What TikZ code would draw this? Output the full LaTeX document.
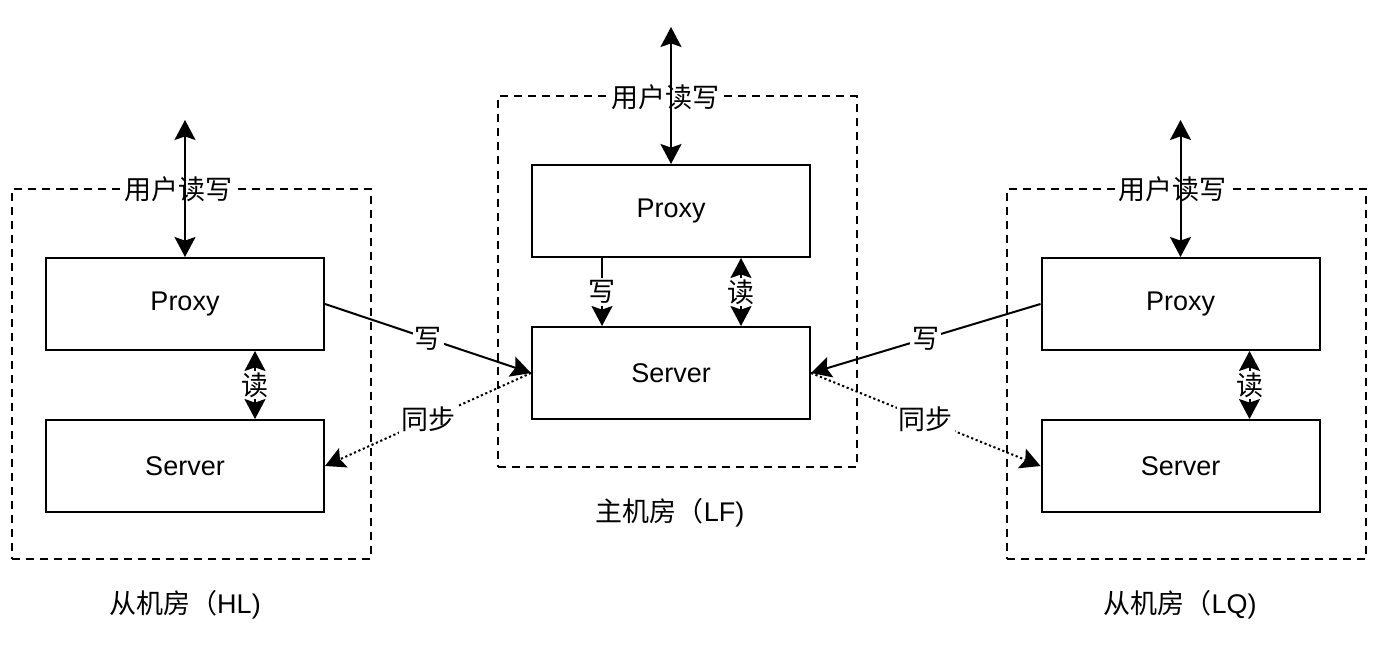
\documentclass[tikz,border=0pt]{standalone}
\usepackage{fontspec}
\setmainfont{Liberation Sans}
\newfontfamily\cjk{Noto Sans CJK SC}
\usetikzlibrary{arrows.meta}

\begin{document}
\begin{tikzpicture}[x=0.5pt,y=-0.5pt,
  room/.style={draw,dash pattern=on 4pt off 3pt,line width=1pt,minimum width=179.5pt,minimum height=185pt},
  box/.style={draw,line width=1pt,minimum width=139pt,minimum height=46pt,font=\fontsize{13.5}{16}\selectfont},
  lbl/.style={fill=white,inner sep=1pt,font=\cjk\fontsize{13.5}{16}\selectfont},
  roomname/.style={font=\fontsize{13.5}{16}\selectfont},
  conn/.style={line width=1pt,-{Stealth[length=10pt,width=10.5pt,inset=1.8pt]}},
  rw/.style={line width=1pt,{Stealth[length=10pt,width=10.5pt,inset=1.8pt]}-{Stealth[length=10pt,width=10.5pt,inset=1.8pt]}},
  sync/.style={conn,dash pattern=on 1.1pt off 1.3pt}]
\useasboundingbox (0,0) rectangle (1384,647);
\node [room] (hl) at (191.5,374) {};
\node [room] (lf) at (677.5,281.5) {};
\node [room] (lq) at (1186.5,374) {};
\node [lbl] (hlrw) at (178,189) {用户读写};
\node [lbl] (lfrw) at (665,97) {用户读写};
\node [lbl] (lqrw) at (1172,189) {用户读写};
\node [box] (hlproxy) at (185,304) {Proxy};
\node [box] (hlserver) at (185,466) {Server};
\node [box] (lfproxy) at (671,211) {Proxy};
\node [box] (lfserver) at (671,373) {Server};
\node [box] (lqproxy) at (1180.5,304) {Proxy};
\node [box] (lqserver) at (1180.5,466) {Server};
\node [roomname] (hlname) at (185,605) {{\cjk 从机房（}HL)};
\node [roomname] (lfname) at (670,513) {{\cjk 主机房（}LF)};
\node [roomname] (lqname) at (1180,605) {{\cjk 从机房（}LQ)};
\coordinate (hluser) at (185,120);
\coordinate (lfuser) at (671,27);
\coordinate (lquser) at (1180.5,120);
\draw [rw] (hluser) -- (hlproxy.north);
\draw [rw] (lfuser) -- (lfproxy.north);
\draw [rw] (lquser) -- (lqproxy.north);
\draw [rw] ([xshift=35pt]hlproxy.south) -- node [lbl] {读} ([xshift=35pt]hlserver.north);
\draw [conn] ([xshift=-34.5pt]lfproxy.south) -- node [lbl] {写} ([xshift=-34.5pt]lfserver.north);
\draw [rw] ([xshift=35pt]lfproxy.south) -- node [lbl] {读} ([xshift=35pt]lfserver.north);
\draw [rw] ([xshift=34.5pt]lqproxy.south) -- node [lbl] {读} ([xshift=34.5pt]lqserver.north);
\draw [conn] (hlproxy.east) -- node [lbl] {写} (lfserver.west);
\draw [conn] (lqproxy.west) -- node [lbl] {写} (lfserver.east);
\draw [sync] (lfserver.west) -- node [lbl] {同步} (hlserver.east);
\draw [sync] (lfserver.east) -- node [lbl] {同步} (lqserver.west);
\end{tikzpicture}
\end{document}
